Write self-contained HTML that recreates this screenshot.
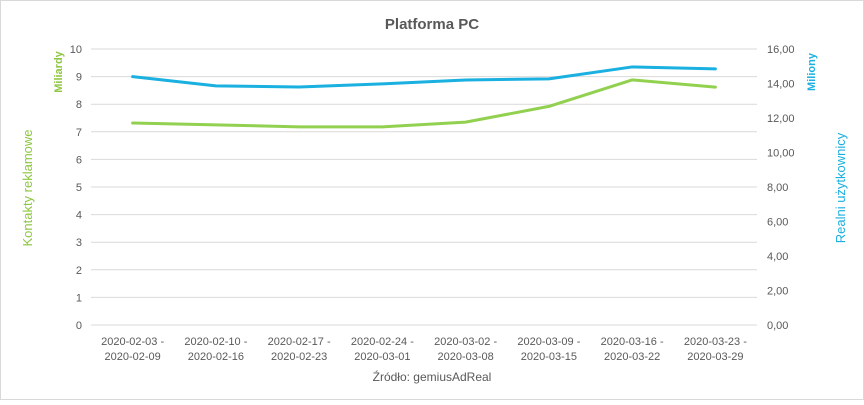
<!DOCTYPE html>
<html><head><meta charset="utf-8"><style>
body{margin:0;background:#fff;}
svg text{font-family:"Liberation Sans",sans-serif;}
</style></head><body>
<svg width="864" height="400" xmlns="http://www.w3.org/2000/svg">
<rect x="0.5" y="0.5" width="863" height="399" fill="#fff" stroke="#d9d9d9"/>
<text x="432" y="29" text-anchor="middle" font-size="15" font-weight="bold" fill="#595959">Platforma PC</text>
<g id="grid"></g><g id="lines"></g><g id="ticks"></g>
<text transform="translate(32,188) rotate(-90)" text-anchor="middle" font-size="13" fill="#8dc63f">Kontakty reklamowe</text>
<text transform="translate(62,72) rotate(-90)" text-anchor="middle" font-size="11" font-weight="bold" fill="#8dc63f">Miliardy</text>
<text transform="translate(845,188) rotate(-90)" text-anchor="middle" font-size="13" fill="#1ab0e0">Realni użytkownicy</text>
<text transform="translate(815,72) rotate(-90)" text-anchor="middle" font-size="11" font-weight="bold" fill="#1ab0e0">Miliony</text>
<text x="432" y="381" text-anchor="middle" font-size="12" fill="#595959">Źródło: gemiusAdReal</text>
</svg>
<script>
const categories=[["2020-02-03 -","2020-02-09"],["2020-02-10 -","2020-02-16"],["2020-02-17 -","2020-02-23"],["2020-02-24 -","2020-03-01"],["2020-03-02 -","2020-03-08"],["2020-03-09 -","2020-03-15"],["2020-03-16 -","2020-03-22"],["2020-03-23 -","2020-03-29"]];
const kontakty=[7.32,7.25,7.18,7.18,7.35,7.92,8.88,8.62];
const uzytkownicy=[14.4,13.86,13.8,13.98,14.2,14.27,14.96,14.85];
const leftTicks=["0","1","2","3","4","5","6","7","8","9","10"];
const rightTicks=["0,00","2,00","4,00","6,00","8,00","10,00","12,00","14,00","16,00"];
const NS="http://www.w3.org/2000/svg";
const L=91,R=757,T=49,B=325;
const x=i=>L+(R-L)/categories.length*(i+0.5);
const yL=v=>B-(B-T)*v/10;
const yR=v=>B-(B-T)*v/16;
function mk(tag,attrs,parent,txt){const e=document.createElementNS(NS,tag);for(const k in attrs)e.setAttribute(k,attrs[k]);if(txt!==undefined)e.textContent=txt;document.getElementById(parent).appendChild(e);return e;}
leftTicks.forEach((t,i)=>{
 const y=yL(i);
 const g=mk("line",{x1:L,x2:R,y1:y,y2:y,stroke:"#d9d9d9","stroke-width":1},"grid");
 
 
 const tx=mk("text",{x:82,y:y+4,"text-anchor":"end","font-size":11,fill:"#595959"},"ticks",t);
 
 
});
rightTicks.forEach((t,i)=>{
 const tx=mk("text",{x:767,y:yR(i*2)+4,"font-size":11,fill:"#595959"},"ticks",t);
 
 
});
categories.forEach((c,i)=>{
 c.forEach((s,j)=>{
  const tx=mk("text",{x:x(i),y:345+j*15,"text-anchor":"middle","font-size":11,fill:"#595959"},"ticks",s);
  
  
 });
});
const p1=mk("polyline",{points:kontakty.map((v,i)=>x(i)+","+yL(v)).join(" "),fill:"none",stroke:"#92d050","stroke-width":3,"stroke-linejoin":"round","stroke-linecap":"round"},"lines");


const p2=mk("polyline",{points:uzytkownicy.map((v,i)=>x(i)+","+yR(v)).join(" "),fill:"none",stroke:"#1ab0e0","stroke-width":3,"stroke-linejoin":"round","stroke-linecap":"round"},"lines");


</script>
</body></html>
